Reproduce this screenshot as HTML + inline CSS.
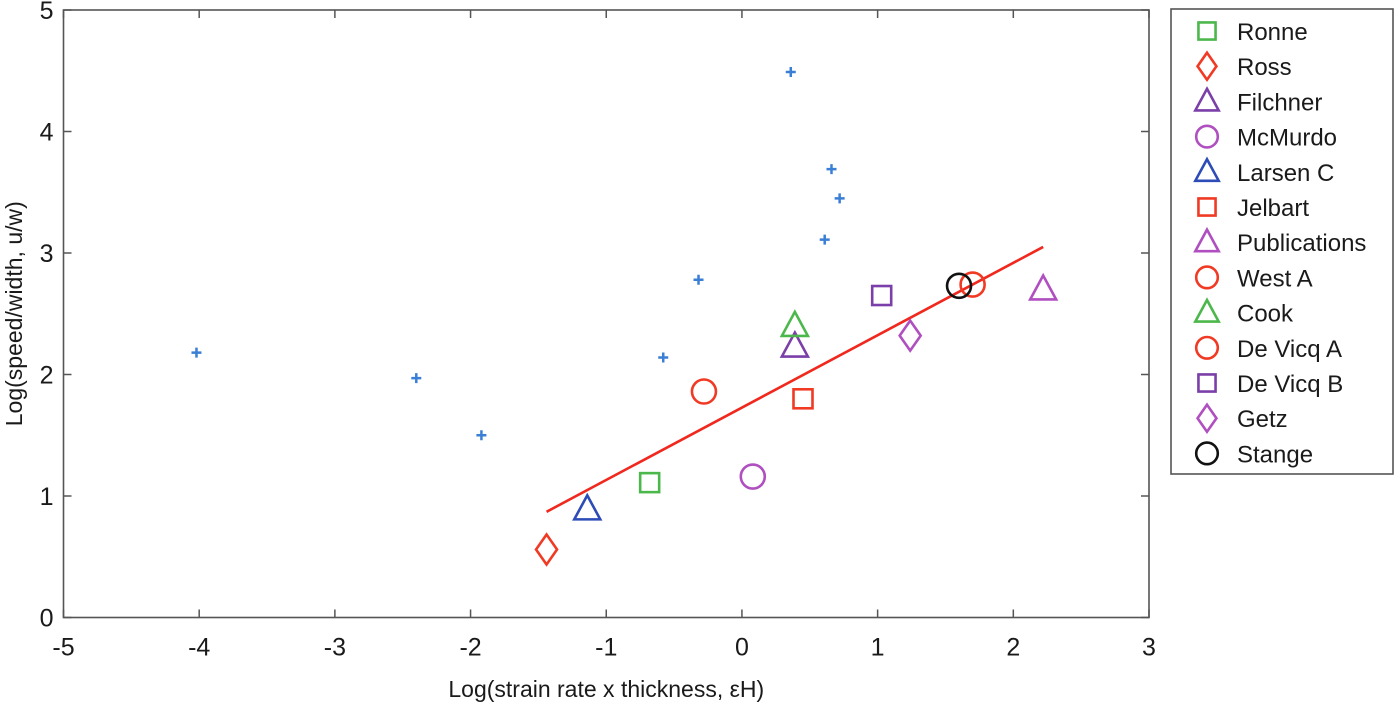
<!DOCTYPE html>
<html><head><meta charset="utf-8"><style>
body{margin:0;background:#fff;}
text{font-family:"Liberation Sans",sans-serif;fill:#1a1a1a;}
</style></head><body>
<svg id="chart" width="1400" height="704">
<g id="plot"></g>
</svg>
<script>
const plusX=[-4.02,-2.40,-1.92,-0.58,-0.32,0.61,0.72,0.66,0.36];
const plusY=[2.18,1.97,1.50,2.14,2.78,3.11,3.45,3.69,4.49];
const seriesNames=["Ronne","Ross","Filchner","McMurdo","Larsen C","Jelbart","Publications","West A","Cook","De Vicq A","De Vicq B","Getz","Stange"];
const seriesX=[-0.68,-1.44,0.39,0.08,-1.14,0.45,2.22,-0.28,0.39,1.70,1.03,1.24,1.60];
const seriesY=[1.11,0.56,2.23,1.16,0.89,1.80,2.70,1.86,2.40,2.74,2.65,2.32,2.73];
const seriesShape=["square","diamond","triangle","circle","triangle","square","triangle","circle","triangle","circle","square","diamond","circle"];
const seriesColor=["#4cb84c","#f03a24","#7a3fa8","#b04fc0","#2d4cb8","#f03a24","#b04fc0","#f03a24","#4cb84c","#f03a24","#7a3fa8","#b04fc0","#111"];
const fitX=[-1.44,2.22];
const fitY=[0.87,3.05];
const xTicks=[-5,-4,-3,-2,-1,0,1,2,3];
const yTicks=[0,1,2,3,4,5];
const NS="http://www.w3.org/2000/svg";
const L=63.5,R=1149,T=10,B=617.5;
const sx=v=>L+(v+5)/8*(R-L);
const sy=v=>B-v/5*(B-T);
const g=document.getElementById('plot');
function el(t,a,p){const e=document.createElementNS(NS,t);for(const k in a)e.setAttribute(k,a[k]);(p||g).appendChild(e);return e;}
function marker(shape,cx,cy,color,parent,s){
  s=s||1;
  const st={fill:"none",stroke:color,"stroke-width":2.6};
  let e;
  if(shape==="circle"){e=el("circle",Object.assign({cx,cy,r:12*s},st),parent);}
  else if(shape==="square"){e=el("rect",Object.assign({x:cx-9.5*s,y:cy-9.5*s,width:19*s,height:19*s},st),parent);}
  else if(shape==="diamond"){e=el("polygon",Object.assign({points:`${cx},${cy-15*s} ${cx+10.5*s},${cy} ${cx},${cy+15*s} ${cx-10.5*s},${cy}`},st),parent);}
  else {e=el("polygon",Object.assign({points:`${cx},${cy-14*s} ${cx+13*s},${cy+10*s} ${cx-13*s},${cy+10*s}`},st),parent);}
  return e;
}
const frame=el("rect",{x:L,y:T,width:R-L,height:B-T,fill:"none",stroke:"#555","stroke-width":1.6});


xTicks.forEach(v=>{
  el("line",{x1:sx(v),x2:sx(v),y1:B,y2:B-8,stroke:"#555","stroke-width":1.5});
  el("line",{x1:sx(v),x2:sx(v),y1:T,y2:T+8,stroke:"#555","stroke-width":1.5});
  const t=el("text",{x:sx(v),y:B+38,"text-anchor":"middle","font-size":25});t.textContent=v;
  
  
});
yTicks.forEach(v=>{
  el("line",{x1:L,x2:L+8,y1:sy(v),y2:sy(v),stroke:"#555","stroke-width":1.5});
  el("line",{x1:R,x2:R-8,y1:sy(v),y2:sy(v),stroke:"#555","stroke-width":1.5});
  const t=el("text",{x:L-10,y:sy(v)+9,"text-anchor":"end","font-size":25});t.textContent=v;
  
  
});
const xt=el("text",{x:(L+R)/2,y:697,"text-anchor":"middle","font-size":23});xt.textContent="Log(strain rate x thickness, \u03B5H)";


const yt=el("text",{x:0,y:0,"text-anchor":"middle","font-size":23,transform:`translate(22,${(T+B)/2}) rotate(-90)`});yt.textContent="Log(speed/width, u/w)";


plusX.forEach((x,i)=>{
  const p=el("path",{d:`M${sx(x)-5},${sy(plusY[i])}h10M${sx(x)},${sy(plusY[i])-5}v10`,stroke:"#3a7fd5","stroke-width":2.5});
  
  
});
const fl=el("line",{x1:sx(fitX[0]),y1:sy(fitY[0]),x2:sx(fitX[1]),y2:sy(fitY[1]),stroke:"#f0281e","stroke-width":2.6});


seriesX.forEach((x,i)=>{
  const m=marker(seriesShape[i],sx(x),sy(seriesY[i]),seriesColor[i]);
  
  
});
const lg=el("g",{});


el("rect",{x:1171,y:9,width:222,height:465,fill:"#fff",stroke:"#555","stroke-width":1.6},lg);
seriesNames.forEach((n,i)=>{
  const y=31+i*35.2;
  const e=el("g",{},lg);
  
  
  marker(seriesShape[i],1207,y,seriesColor[i],e,0.9);
  const t=el("text",{x:1237,y:y+9,"font-size":24},e);t.textContent=n;
});
</script>
</body></html>
